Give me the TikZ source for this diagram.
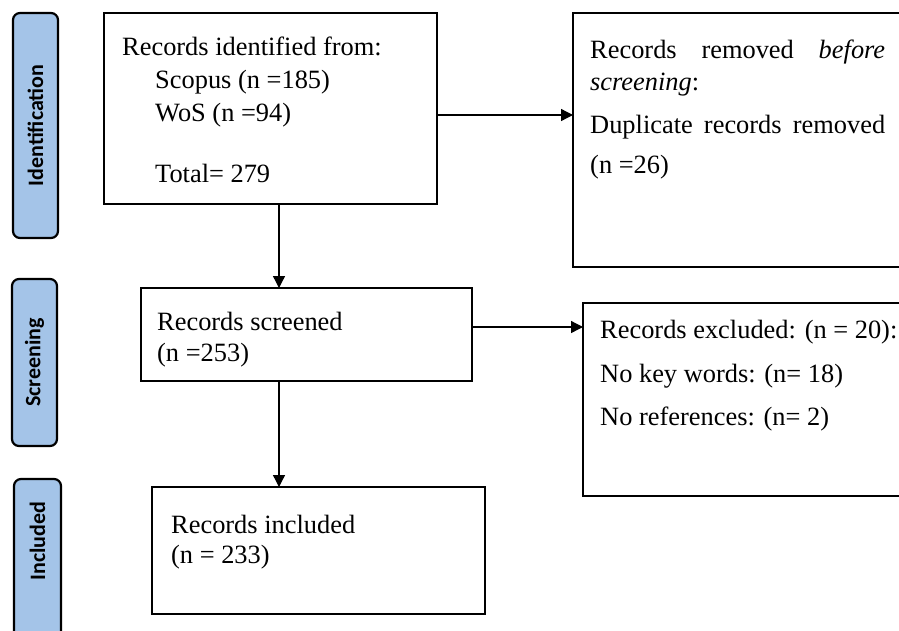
\documentclass[tikz,border=0pt]{standalone}
\usepackage{fontspec}
\setmainfont{Liberation Serif}
\newfontfamily\labelfont{Carlito}
\usetikzlibrary{arrows.meta}
\definecolor{stageblue}{RGB}{164,196,232}
\begin{document}
\begin{tikzpicture}[x=1pt,y=-1pt,
  box/.style={draw, line width=2.6pt, rectangle, inner sep=0pt, outer sep=0pt, anchor=north west},
  stage/.style={draw, line width=2.2pt, fill=stageblue, rounded corners=7pt, inner sep=0pt, outer sep=0pt, anchor=north west},
  stagetext/.style={font=\labelfont\bfseries\fontsize{22}{22}\selectfont, rotate=90, inner sep=0pt},
  txt/.style={font=\fontsize{26.4}{30}\selectfont, anchor=base west, inner sep=0pt},
  arr/.style={line width=1.3pt, -{Triangle[length=12pt,width=12pt]}}]
\clip (0,0) rectangle (899,630);
\useasboundingbox (0,0) rectangle (899,630);
% stage labels
\node[stage, minimum width=45pt, minimum height=225pt] (sid) at (13,13) {};
\node[stagetext] (tid) at (sid.center) {Identification};
\node[stage, minimum width=45pt, minimum height=167pt] (ssc) at (12,279) {};
\node[stagetext] (tsc) at (ssc.center) {Screening};
\node[stage, minimum width=47pt, minimum height=171pt] (sin) at (14,479) {};
\node[stagetext] (tin) at ([yshift=23.5pt]sin.center) {Included};
% boxes
\node[box, minimum width=333pt, minimum height=191pt] (ident) at (104,13) {};
\node[box, minimum width=340pt, minimum height=254pt] (removed) at (573,13) {};
\node[box, minimum width=331pt, minimum height=93pt] (screened) at (141,288) {};
\node[box, minimum width=330pt, minimum height=193pt] (excluded) at (583,303) {};
\node[box, minimum width=333pt, minimum height=127pt] (included) at (152,487) {};
% texts
\node[txt] (t1) at (122,55) {Records identified from:};
\node[txt] (t2) at (155,88) {Scopus (n =185)};
\node[txt] (t3) at (155,121) {WoS (n =94)};
\node[txt] (t4) at (155,182) {Total= 279};
\node[txt] (t5) at (590,58) {\makebox[295pt][s]{Records removed \textit{before}}};
\node[txt] (t6) at (590,90) {\textit{screening}:};
\node[txt] (t7) at (590,133) {\makebox[295pt][s]{Duplicate records removed}};
\node[txt] (t8) at (590,173) {(n =26)};
\node[txt] (t9) at (157,330) {Records screened};
\node[txt] (t10) at (157,361) {(n =253)};
\node[txt] (t11) at (600,338) {Records excluded: (n = 20):};
\node[txt] (t12) at (600,382) {No key words: (n= 18)};
\node[txt] (t13) at (600,425) {No references: (n= 2)};
\node[txt] (t14) at (171,533) {Records included};
\node[txt] (t15) at (171,563) {(n = 233)};
% arrows
\draw[arr] ([yshift=-6.5pt]ident.east) coordinate (a1) -- (a1 -| removed.west);
\draw[arr] ([yshift=7.5pt]screened.east) coordinate (a2) -- (a2 -| excluded.west);
\draw[arr] ([xshift=8.5pt]ident.south) coordinate (d1) -- (d1 |- screened.north);
\draw[arr] (d1 |- screened.south) coordinate (d2) -- (d2 |- included.north);
\end{tikzpicture}
\end{document}
